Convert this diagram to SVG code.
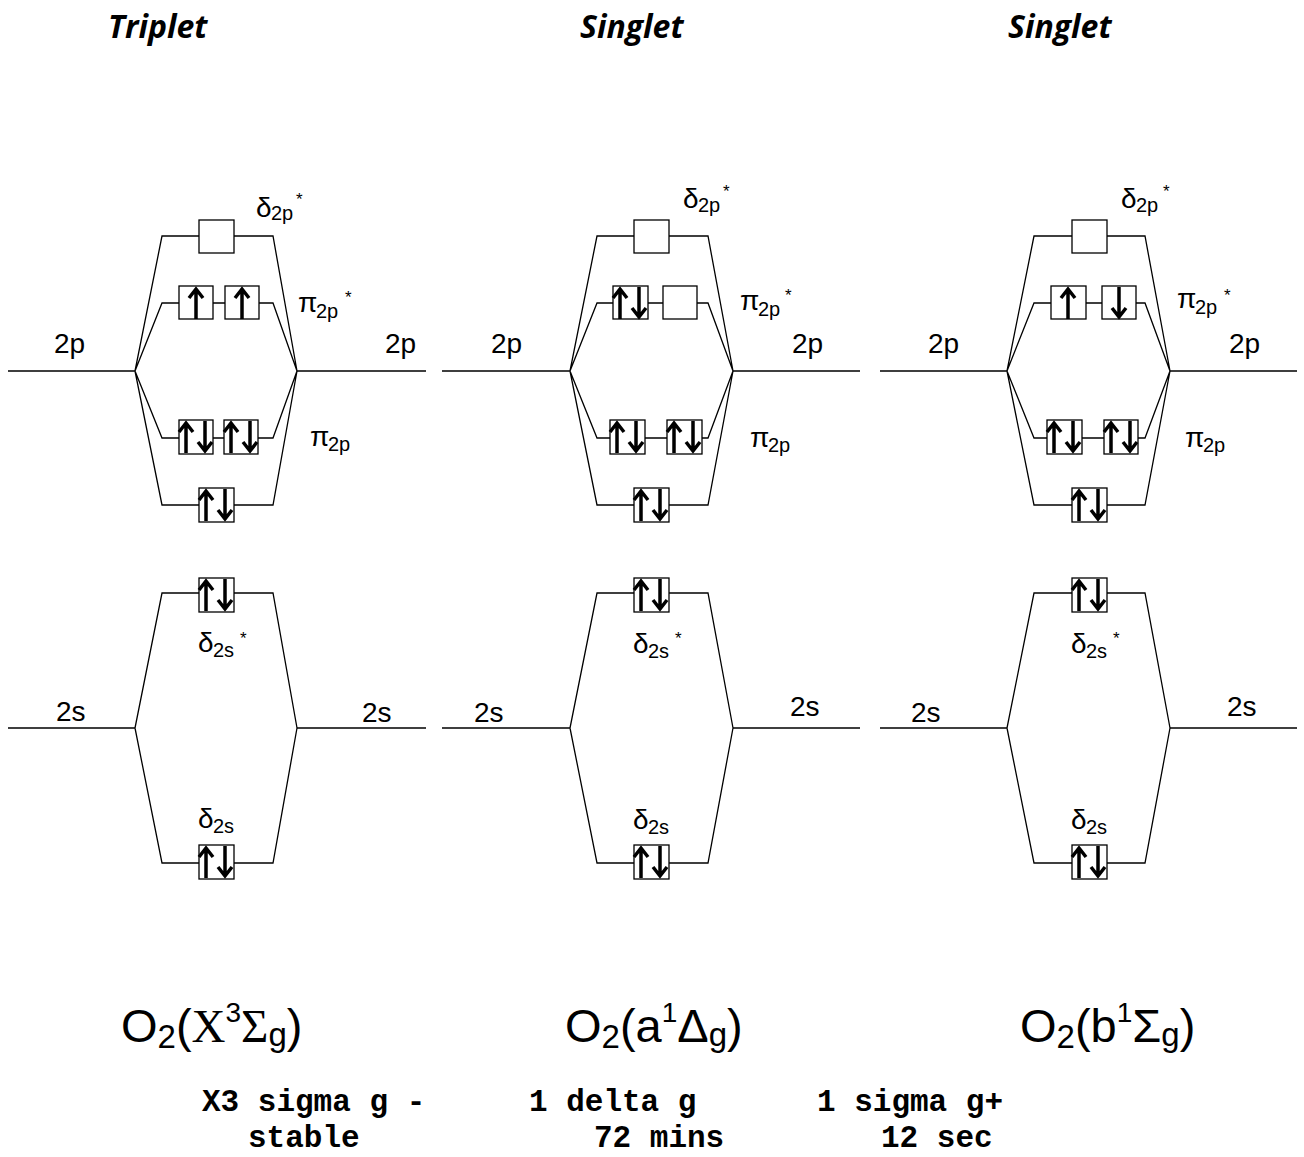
<svg xmlns="http://www.w3.org/2000/svg" width="1304" height="1157" viewBox="0 0 1304 1157">
<style>
.ln{fill:none;stroke:#000;stroke-width:1.3}
.bx{fill:#fff;stroke:#000;stroke-width:1.3}
.ar{fill:none;stroke:#000;stroke-width:3.5;stroke-linejoin:miter}
.lb{font-family:"Liberation Sans",Arial,sans-serif;font-size:28px;fill:#000}
.sb{font-size:20px}
.st{font-size:17px}
.ttl{font-family:"Open Sans","Liberation Sans",sans-serif;font-size:32px;font-weight:700;font-style:italic;fill:#000}
.fm{font-family:"Liberation Sans",Arial,sans-serif;font-size:47px;fill:#000}
.fs{font-size:33px}
.fp{font-size:28px}
.sr{font-family:"Liberation Serif","Times New Roman",serif}
.mono{font-family:"Liberation Mono","Courier New",monospace;font-size:31px;font-weight:700;fill:#000}
</style>
<defs>
<path id="up" class="ar" d="M0,16 V-14 M-7,-5 L0,-14 L7,-5"/>
<path id="dn" class="ar" d="M0,-16 V14 M-7,5 L0,14 L7,5"/>
</defs>

<g id="titles">
<text class="ttl" x="108" y="38">Triplet</text>
<text class="ttl" x="580" y="38">Singlet</text>
<text class="ttl" x="1008" y="38">Singlet</text>
</g>

<g id="connectors">
<path class="ln" d="M8,371 H135 M297,371 H426 M8,728 H135 M297,728 H426"/>
<path class="ln" d="M135,371 L162,236 H273 L297,371 M135,371 L162,303 H273 L297,371 M135,371 L162,438 H273 L297,371 M135,371 L162,505 H273 L297,371"/>
<path class="ln" d="M135,728 L162,593 H273 L297,728 M135,728 L162,863 H273 L297,728"/>
<path class="ln" d="M442,371 H570 M733,371 H860 M442,728 H570 M733,728 H860"/>
<path class="ln" d="M570,371 L597,236 H708 L733,371 M570,371 L597,303 H708 L733,371 M570,371 L597,438 H708 L733,371 M570,371 L597,505 H708 L733,371"/>
<path class="ln" d="M570,728 L597,593 H708 L733,728 M570,728 L597,863 H708 L733,728"/>
<path class="ln" d="M880,371 H1007 M1170,371 H1297 M880,728 H1007 M1170,728 H1297"/>
<path class="ln" d="M1007,371 L1034,236 H1145 L1170,371 M1007,371 L1034,303 H1145 L1170,371 M1007,371 L1034,438 H1145 L1170,371 M1007,371 L1034,505 H1145 L1170,371"/>
<path class="ln" d="M1007,728 L1034,593 H1145 L1170,728 M1007,728 L1034,863 H1145 L1170,728"/>
</g>

<g id="triplet">
<rect class="bx" x="199" y="220" width="35" height="33"/>
<rect class="bx" x="179" y="286" width="34" height="33"/>
<use href="#up" x="196" y="303"/>
<rect class="bx" x="225" y="286" width="34" height="33"/>
<use href="#up" x="242" y="303"/>
<rect class="bx" x="179" y="420" width="34" height="34"/>
<use href="#up" x="186" y="437"/><use href="#dn" x="205" y="437"/>
<rect class="bx" x="224" y="420" width="34" height="34"/>
<use href="#up" x="231" y="437"/><use href="#dn" x="250" y="437"/>
<rect class="bx" x="199" y="488" width="35" height="34"/>
<use href="#up" x="206" y="505"/><use href="#dn" x="225" y="505"/>
<rect class="bx" x="199" y="578" width="35" height="34"/>
<use href="#up" x="206" y="595"/><use href="#dn" x="225" y="595"/>
<rect class="bx" x="199" y="845" width="35" height="34"/>
<use href="#up" x="206" y="862"/><use href="#dn" x="225" y="862"/>
<text class="lb"><tspan x="256" y="217">δ</tspan><tspan class="sb" x="271" y="220">2p</tspan><tspan class="st" x="296" y="205">*</tspan></text>
<text class="lb"><tspan x="298" y="312">π</tspan><tspan class="sb" x="316" y="318">2p</tspan><tspan class="st" x="345" y="303">*</tspan></text>
<text class="lb"><tspan x="310" y="446">π</tspan><tspan class="sb" x="328" y="451">2p</tspan></text>
<text class="lb" x="54" y="353">2p</text>
<text class="lb" x="385" y="353">2p</text>
<text class="lb"><tspan x="198" y="652">δ</tspan><tspan class="sb" x="213" y="657">2s</tspan><tspan class="st" x="240" y="644">*</tspan></text>
<text class="lb"><tspan x="198" y="828">δ</tspan><tspan class="sb" x="213" y="833">2s</tspan></text>
<text class="lb" x="56" y="721">2s</text>
<text class="lb" x="362" y="722">2s</text>
<text class="fm" x="121" y="1042">O<tspan class="fs" dy="6">2</tspan><tspan dy="-6">(</tspan><tspan class="sr">X</tspan><tspan class="fp" dy="-20">3</tspan><tspan class="sr" dy="20">Σ</tspan><tspan class="fs" dy="4">g</tspan><tspan dy="-4">)</tspan></text>
</g>

<g id="singlet-a">
<rect class="bx" x="634" y="220" width="35" height="33"/>
<rect class="bx" x="613" y="286" width="35" height="33"/>
<use href="#up" x="620" y="303"/><use href="#dn" x="639" y="303"/>
<rect class="bx" x="663" y="286" width="34" height="33"/>
<rect class="bx" x="610" y="420" width="35" height="34"/>
<use href="#up" x="617" y="437"/><use href="#dn" x="636" y="437"/>
<rect class="bx" x="667" y="420" width="35" height="34"/>
<use href="#up" x="674" y="437"/><use href="#dn" x="693" y="437"/>
<rect class="bx" x="634" y="488" width="35" height="34"/>
<use href="#up" x="641" y="505"/><use href="#dn" x="660" y="505"/>
<rect class="bx" x="634" y="578" width="35" height="34"/>
<use href="#up" x="641" y="595"/><use href="#dn" x="660" y="595"/>
<rect class="bx" x="634" y="845" width="35" height="34"/>
<use href="#up" x="641" y="862"/><use href="#dn" x="660" y="862"/>
<text class="lb"><tspan x="683" y="208">δ</tspan><tspan class="sb" x="698" y="212">2p</tspan><tspan class="st" x="723" y="197">*</tspan></text>
<text class="lb"><tspan x="740" y="310">π</tspan><tspan class="sb" x="758" y="316">2p</tspan><tspan class="st" x="785" y="301">*</tspan></text>
<text class="lb"><tspan x="750" y="447">π</tspan><tspan class="sb" x="768" y="452">2p</tspan></text>
<text class="lb" x="491" y="353">2p</text>
<text class="lb" x="792" y="353">2p</text>
<text class="lb"><tspan x="633" y="653">δ</tspan><tspan class="sb" x="648" y="658">2s</tspan><tspan class="st" x="675" y="644">*</tspan></text>
<text class="lb"><tspan x="633" y="829">δ</tspan><tspan class="sb" x="648" y="834">2s</tspan></text>
<text class="lb" x="474" y="722">2s</text>
<text class="lb" x="790" y="716">2s</text>
<text class="fm" x="565" y="1042">O<tspan class="fs" dy="6">2</tspan><tspan dy="-6">(</tspan>a<tspan class="fp" dy="-20">1</tspan><tspan dy="20">Δ</tspan><tspan class="fs" dy="4">g</tspan><tspan dy="-4">)</tspan></text>
</g>

<g id="singlet-b">
<rect class="bx" x="1072" y="220" width="35" height="33"/>
<rect class="bx" x="1051" y="286" width="35" height="33"/>
<use href="#up" x="1068" y="303"/>
<rect class="bx" x="1102" y="286" width="34" height="33"/>
<use href="#dn" x="1119" y="303"/>
<rect class="bx" x="1047" y="420" width="35" height="34"/>
<use href="#up" x="1054" y="437"/><use href="#dn" x="1073" y="437"/>
<rect class="bx" x="1104" y="420" width="34" height="34"/>
<use href="#up" x="1111" y="437"/><use href="#dn" x="1130" y="437"/>
<rect class="bx" x="1072" y="488" width="35" height="34"/>
<use href="#up" x="1079" y="505"/><use href="#dn" x="1098" y="505"/>
<rect class="bx" x="1072" y="578" width="35" height="34"/>
<use href="#up" x="1079" y="595"/><use href="#dn" x="1098" y="595"/>
<rect class="bx" x="1072" y="845" width="35" height="34"/>
<use href="#up" x="1079" y="862"/><use href="#dn" x="1098" y="862"/>
<text class="lb"><tspan x="1121" y="208">δ</tspan><tspan class="sb" x="1136" y="212">2p</tspan><tspan class="st" x="1163" y="197">*</tspan></text>
<text class="lb"><tspan x="1177" y="308">π</tspan><tspan class="sb" x="1195" y="314">2p</tspan><tspan class="st" x="1224" y="301">*</tspan></text>
<text class="lb"><tspan x="1185" y="447">π</tspan><tspan class="sb" x="1203" y="452">2p</tspan></text>
<text class="lb" x="928" y="353">2p</text>
<text class="lb" x="1229" y="353">2p</text>
<text class="lb"><tspan x="1071" y="653">δ</tspan><tspan class="sb" x="1086" y="658">2s</tspan><tspan class="st" x="1113" y="644">*</tspan></text>
<text class="lb"><tspan x="1071" y="829">δ</tspan><tspan class="sb" x="1086" y="834">2s</tspan></text>
<text class="lb" x="911" y="722">2s</text>
<text class="lb" x="1227" y="716">2s</text>
<text class="fm" x="1020" y="1042">O<tspan class="fs" dy="6">2</tspan><tspan dy="-6">(</tspan>b<tspan class="fp" dy="-20">1</tspan><tspan dy="20">Σ</tspan><tspan class="fs" dy="4">g</tspan><tspan dy="-4">)</tspan></text>
</g>

<g id="notes">
<text class="mono" x="202" y="1111">X3 sigma g -</text>
<text class="mono" x="248" y="1147">stable</text>
<text class="mono" x="529" y="1111">1 delta g</text>
<text class="mono" x="594" y="1147">72 mins</text>
<text class="mono" x="817" y="1111">1 sigma g+</text>
<text class="mono" x="881" y="1147">12 sec</text>
</g>
</svg>
